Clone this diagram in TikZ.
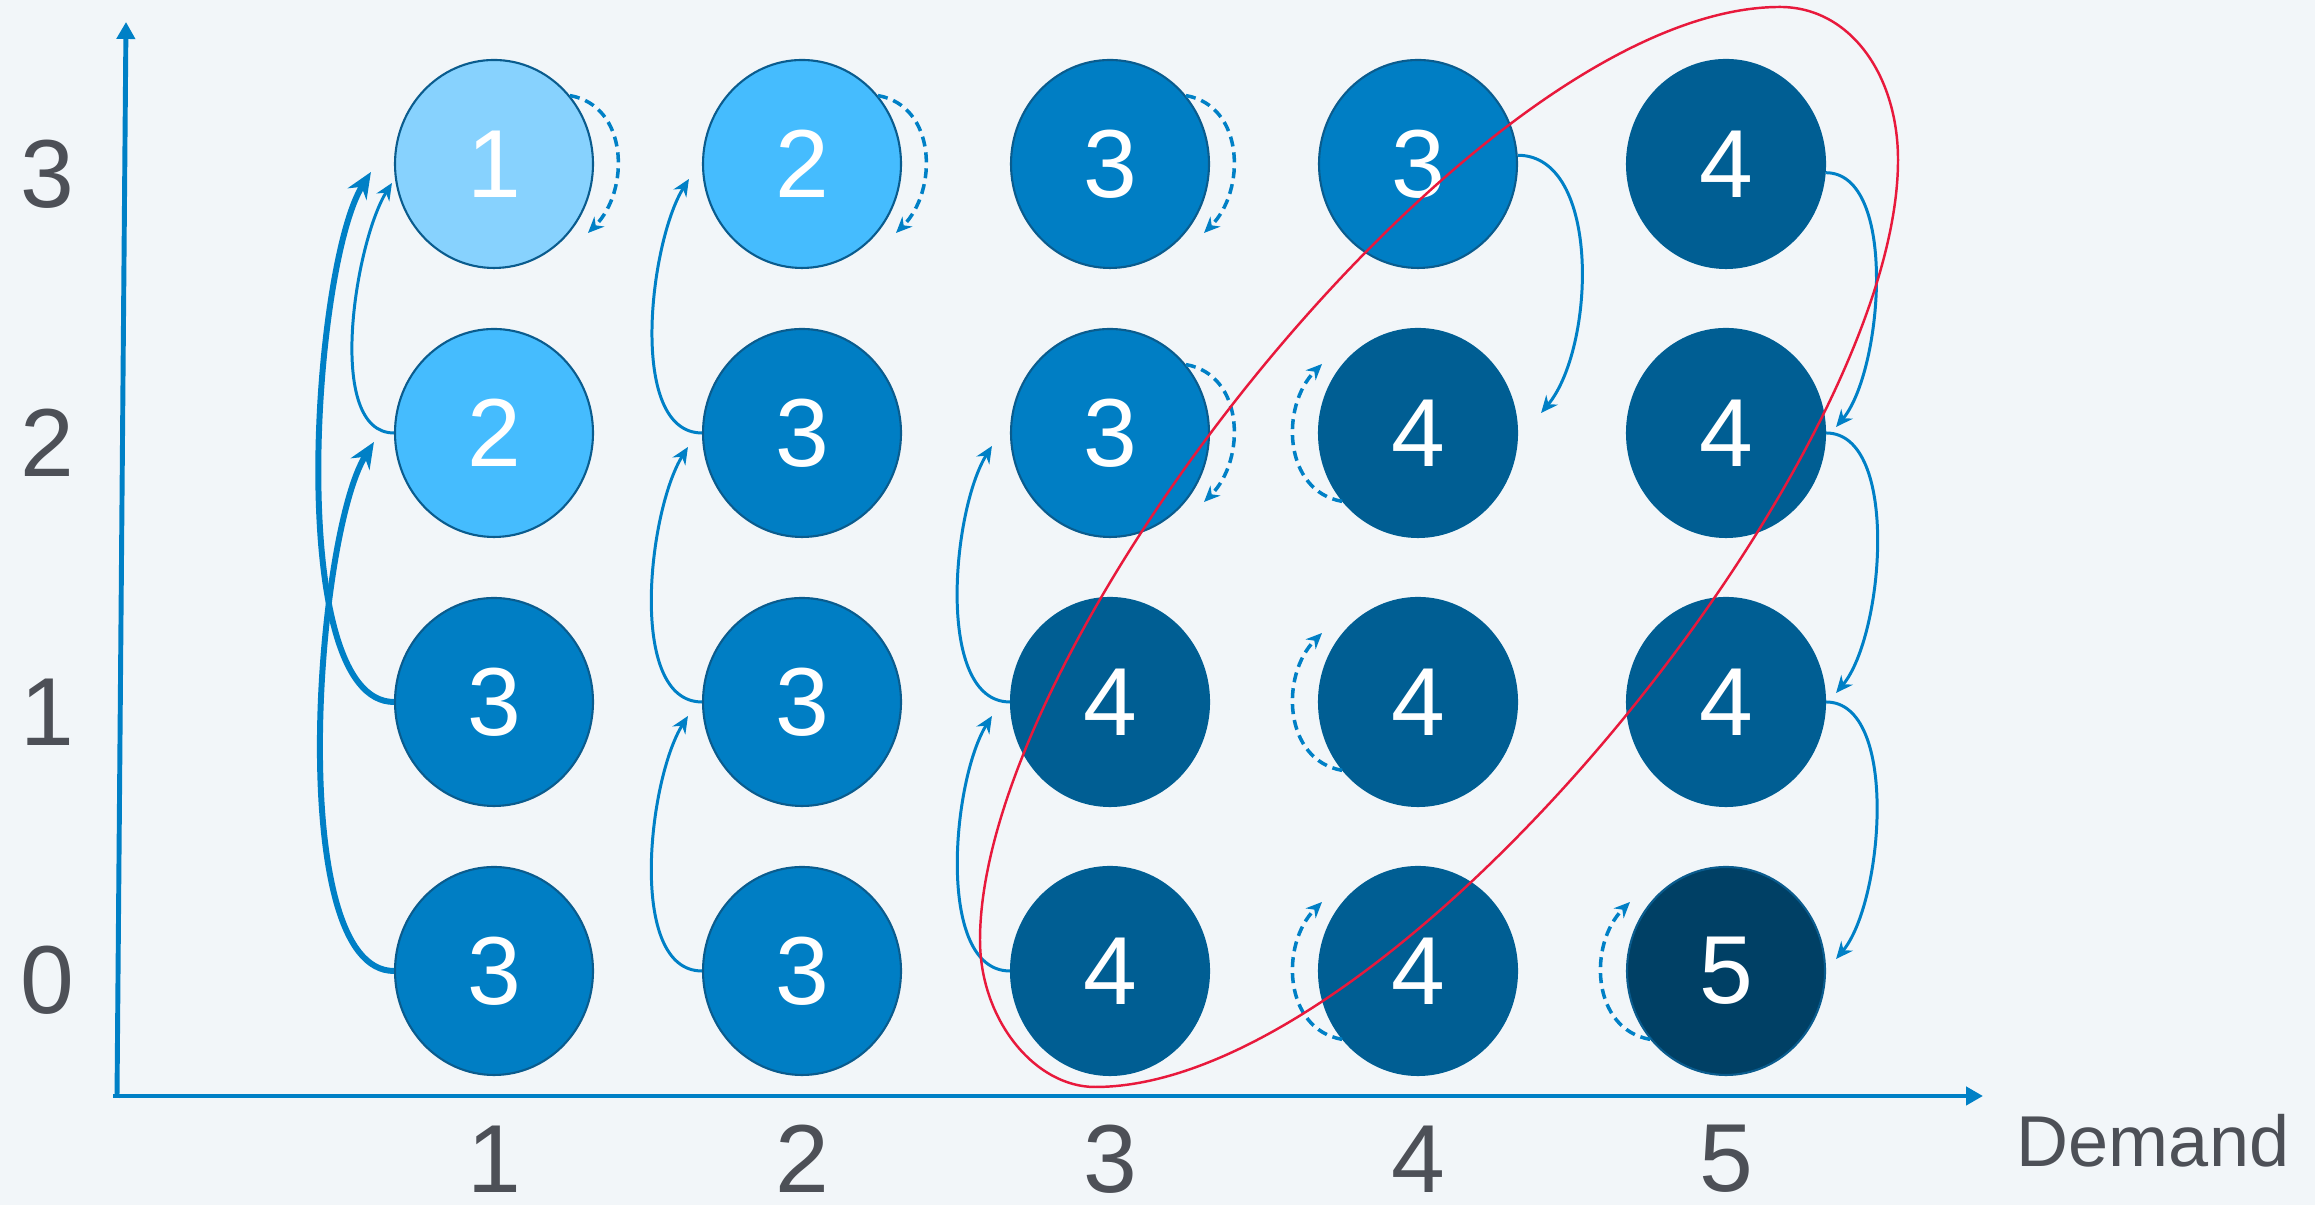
\documentclass[tikz,border=0pt]{standalone}
\usepackage{fontspec}
\setmainfont{Liberation Sans}
\usetikzlibrary{shapes.geometric, arrows.meta, positioning}

\definecolor{bgpanel}{HTML}{F2F6F9}
\definecolor{lvlA}{HTML}{87D2FE}
\definecolor{lvlB}{HTML}{45BCFE}
\definecolor{lvlC}{HTML}{007EC4}
\definecolor{lvlD}{HTML}{005E93}
\definecolor{lvlE}{HTML}{004065}
\definecolor{cellrim}{HTML}{0A5C8E}
\definecolor{linkblue}{HTML}{0080C6}
\definecolor{ticktext}{HTML}{4D5057}
\definecolor{zonered}{HTML}{E8193C}

\begin{document}
\begin{tikzpicture}[
        node distance=2.69cm and 3.08cm, on grid,
        cell/.style={ellipse, draw=cellrim, line width=0.6pt, minimum width=1.98cm, minimum height=2.08cm, inner sep=0pt, text=white, font=\fontsize{27.5}{30}\selectfont},
        axislabel/.style={text=ticktext, inner sep=0pt, font=\fontsize{27.5}{30}\selectfont},
        move/.style={-{Stealth[length=0.17cm, width=0.15cm]}, line width=0.85pt, linkblue},
        bigmove/.style={-{Stealth[length=0.26cm, width=0.22cm]}, line width=1.7pt, linkblue},
        stay/.style={-{Stealth[length=0.16cm, width=0.14cm]}, line width=1pt, linkblue, dash pattern=on 0.1cm off 0.06cm},
        axis/.style={-{Triangle[length=0.17cm, width=0.18cm]}, line width=1.4pt, linkblue}
    ]
        % Background
        \fill[bgpanel] (0,0) rectangle (23.15,12.05);
        \useasboundingbox (0,0) rectangle (23.15,12.05);

        % Axes
        \coordinate (yfoot) at (1.17,1.07);
        \coordinate (ytip) at (1.26,11.83);
        \coordinate (xfoot) at (1.13,1.09);
        \coordinate (xtip) at (19.83,1.09);
        \draw[axis] (yfoot) -- (ytip);
        \draw[axis] (xfoot) -- (xtip);

        % States
        \node[cell, fill=lvlA] (d1s3) at (4.94,10.41) {1};
        \node[cell, fill=lvlB, below=of d1s3] (d1s2) {2};
        \node[cell, fill=lvlC, below=of d1s2] (d1s1) {3};
        \node[cell, fill=lvlC, below=of d1s1] (d1s0) {3};

        \node[cell, fill=lvlB, right=of d1s3] (d2s3) {2};
        \node[cell, fill=lvlC, below=of d2s3] (d2s2) {3};
        \node[cell, fill=lvlC, below=of d2s2] (d2s1) {3};
        \node[cell, fill=lvlC, below=of d2s1] (d2s0) {3};

        \node[cell, fill=lvlC, right=of d2s3] (d3s3) {3};
        \node[cell, fill=lvlC, below=of d3s3] (d3s2) {3};
        \node[cell, fill=lvlD, draw=lvlD, below=of d3s2] (d3s1) {4};
        \node[cell, fill=lvlD, draw=lvlD, below=of d3s1] (d3s0) {4};

        \node[cell, fill=lvlC, right=of d3s3] (d4s3) {3};
        \node[cell, fill=lvlD, draw=lvlD, below=of d4s3] (d4s2) {4};
        \node[cell, fill=lvlD, draw=lvlD, below=of d4s2] (d4s1) {4};
        \node[cell, fill=lvlD, draw=lvlD, below=of d4s1] (d4s0) {4};

        \node[cell, fill=lvlD, draw=lvlD, right=of d4s3] (d5s3) {4};
        \node[cell, fill=lvlD, draw=lvlD, below=of d5s3] (d5s2) {4};
        \node[cell, fill=lvlD, draw=lvlD, below=of d5s2] (d5s1) {4};
        \node[cell, fill=lvlE, draw=cellrim, below=of d5s1] (d5s0) {5};

        % Axis labels
        \node[axislabel, left=4.47cm of d1s3, yshift=-0.1cm] (s3) {3};
        \node[axislabel, left=4.47cm of d1s2, yshift=-0.1cm] (s2) {2};
        \node[axislabel, left=4.47cm of d1s1, yshift=-0.1cm] (s1) {1};
        \node[axislabel, left=4.47cm of d1s0, yshift=-0.09cm] (s0) {0};
        \node[axislabel, below=1.88cm of d1s0] (q1) {1};
        \node[axislabel, below=1.88cm of d2s0] (q2) {2};
        \node[axislabel, below=1.88cm of d3s0] (q3) {3};
        \node[axislabel, below=1.88cm of d4s0] (q4) {4};
        \node[axislabel, below=1.88cm of d5s0] (q5) {5};
        \node[axislabel, font=\fontsize{20.5}{22}\selectfont] (demand) at (21.53,0.64) {Demand};

        % Moves up (left side)
        \draw[bigmove] (d1s0.west) to[out=180, in=238, looseness=0.53] ([xshift=-0.2cm, yshift=-0.09cm]d1s2.west);
        \draw[bigmove] (d1s1.west) to[out=180, in=238, looseness=0.53] ([xshift=-0.23cm, yshift=-0.08cm]d1s3.west);
        \draw[move] (d1s2.west) to[out=180, in=238, looseness=0.71] ([xshift=-0.02cm, yshift=-0.19cm]d1s3.west);
        \draw[move] (d2s0.west) to[out=180, in=238, looseness=0.75] ([xshift=-0.14cm, yshift=-0.14cm]d2s1.west);
        \draw[move] (d2s1.west) to[out=180, in=238, looseness=0.75] ([xshift=-0.14cm, yshift=-0.14cm]d2s2.west);
        \draw[move] (d2s2.west) to[out=180, in=238, looseness=0.75] ([xshift=-0.13cm, yshift=-0.15cm]d2s3.west);
        \draw[move] (d3s0.west) to[out=180, in=238, looseness=0.75] ([xshift=-0.18cm, yshift=-0.14cm]d3s1.west);
        \draw[move] (d3s1.west) to[out=180, in=238, looseness=0.75] ([xshift=-0.18cm, yshift=-0.13cm]d3s2.west);

        % Moves down (right side)
        \draw[move] (d4s3.5) to[out=0, in=50, looseness=0.83] ([xshift=0.23cm, yshift=0.2cm]d4s2.east);
        \draw[move] (d5s3.-5) to[out=0, in=50, looseness=0.73] ([xshift=0.1cm, yshift=0.06cm]d5s2.east);
        \draw[move] (d5s2.east) to[out=0, in=50, looseness=0.73] ([xshift=0.1cm, yshift=0.09cm]d5s1.east);
        \draw[move] (d5s1.east) to[out=0, in=50, looseness=0.73] ([xshift=0.1cm, yshift=0.12cm]d5s0.east);

        % Stay in place
        \draw[stay] (d1s3.42) to[out=-10, in=45, looseness=1.1] ([xshift=0.94cm, yshift=-0.69cm]d1s3.center);
        \draw[stay] (d2s3.42) to[out=-10, in=45, looseness=1.1] ([xshift=0.94cm, yshift=-0.69cm]d2s3.center);
        \draw[stay] (d3s3.42) to[out=-10, in=45, looseness=1.1] ([xshift=0.94cm, yshift=-0.69cm]d3s3.center);
        \draw[stay] (d3s2.42) to[out=-10, in=45, looseness=1.1] ([xshift=0.94cm, yshift=-0.69cm]d3s2.center);
        \draw[stay] (d4s2.222) to[out=170, in=225, looseness=1.1] ([xshift=-0.96cm, yshift=0.69cm]d4s2.center);
        \draw[stay] (d4s1.222) to[out=170, in=225, looseness=1.1] ([xshift=-0.96cm, yshift=0.69cm]d4s1.center);
        \draw[stay] (d4s0.222) to[out=170, in=225, looseness=1.1] ([xshift=-0.96cm, yshift=0.69cm]d4s0.center);
        \draw[stay] (d5s0.222) to[out=170, in=225, looseness=1.1] ([xshift=-0.96cm, yshift=0.69cm]d5s0.center);

        % Highlighted region
        \coordinate (zonetop) at (17.80,11.98);
        \coordinate (zoneright) at (18.98,10.45);
        \coordinate (zonebottom) at (10.95,1.18);
        \coordinate (zoneleft) at (9.80,2.65);
        \draw[zonered, line width=0.7pt, line cap=round]
            (zonetop) .. controls (18.50,11.98) and (18.98,11.30) .. (zoneright)
            .. controls (18.98,7.45) and (13.95,1.18) .. (zonebottom)
            .. controls (10.35,1.18) and (9.80,1.85) .. (zoneleft)
            .. controls (9.80,5.65) and (14.80,11.98) .. (zonetop) -- cycle;
    \end{tikzpicture}
\end{document}
